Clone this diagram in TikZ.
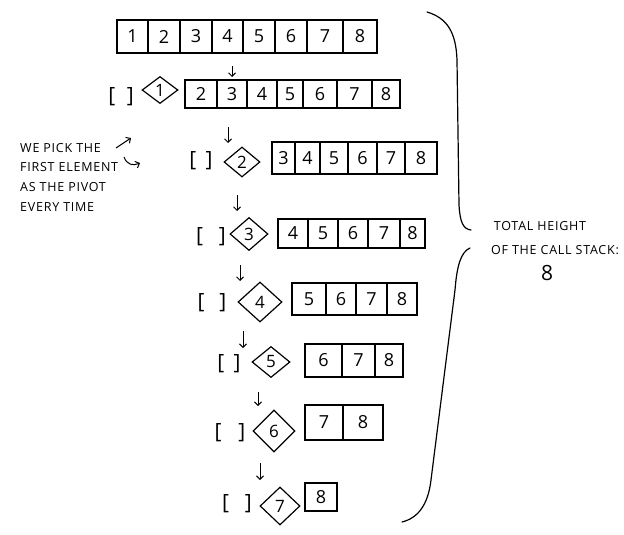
\documentclass[tikz,border=0pt]{standalone}
\usepackage{fontspec}
\setmainfont{Open Sans}
\newfontfamily\handcaps[LetterSpace=6]{Open Sans}
\usetikzlibrary{shapes.geometric,arrows.meta}
\newcommand\cellrow[4]{%
  \foreach \a/\b/\t [count=\i] in {#4} {%
    \node[cell, minimum width={\b-\a}, minimum height={#3-#2}] (r#1c\i) at ({(\a+\b)/2},{(#2+#3)/2}) {\t};}}
\tikzset{
  cell/.style={draw, line width=1.2pt, inner sep=0pt, font=\fontsize{18}{19}\selectfont},
  piv/.style={draw, diamond, line width=1.2pt, inner sep=0pt, aspect=1, font=\fontsize{17}{18}\selectfont},
  brk/.style={inner sep=0pt, font=\fontsize{21}{23}\selectfont},
  downarr/.style={line width=1pt, -{Straight Barb[length=3.5pt,width=7pt]}},
  note/.style={inner sep=0pt, anchor=west, font=\handcaps\fontsize{12.5}{14}\selectfont},
  brace/.style={line width=1.2pt, line cap=round}
}
\begin{document}
\begin{tikzpicture}[x=1pt,y=-1pt]
\useasboundingbox (0,0) rectangle (624,535);
% arrays
\cellrow{0}{20}{53}{117/148/1,148/180/2,180/212/3,212/243/4,243/275/5,275/307/6,307/343/7,343/377/8}
\cellrow{1}{80}{108}{185/217/2,217/247/3,247/277/4,277/303/5,303/337/6,337/372/7,372/400/8}
\cellrow{2}{142}{174}{272/295/3,295/320/4,320/348/5,348/377/6,377/405/7,405/437/8}
\cellrow{3}{219}{248}{278/308/4,308/338/5,338/368/6,368/400/7,400/425/8}
\cellrow{4}{283}{315}{292/326/5,326/356/6,356/387/7,387/417/8}
\cellrow{5}{344}{377}{305/342/6,342/375/7,375/403/8}
\cellrow{6}{405}{440}{305/343/7,343/383/8}
\cellrow{7}{483}{511}{305/337/8}
% pivots
\node[piv, minimum width=36pt, minimum height=27pt] (d1) at (160,90) {1};
\node[piv, minimum width=36pt, minimum height=30pt] (d2) at (242,162) {2};
\node[piv, minimum width=38pt, minimum height=33pt] (d3) at (249,234) {3};
\node[piv, minimum width=44pt, minimum height=40pt] (d4) at (260,302) {4};
\node[piv, minimum width=38pt, minimum height=31pt] (d5) at (271,362) {5};
\node[piv, minimum width=42pt, minimum height=42pt] (d6) at (274,431) {6};
\node[piv, minimum width=40pt, minimum height=38pt] (d7) at (280,506) {7};
% empty lists
\node[brk] (b1) at (121,97) {[\hspace{0.55em}]};
\node[brk] (b2) at (201,161) {[\hspace{0.45em}]};
\node[brk] (b3) at (211,237) {[\hspace{0.75em}]};
\node[brk] (b4) at (212,303) {[\hspace{0.7em}]};
\node[brk] (b5) at (229,364) {[\hspace{0.45em}]};
\node[brk] (b6) at (230,433) {[\hspace{0.8em}]};
\node[brk] (b7) at (237,504) {[\hspace{0.75em}]};
% recursion arrows
\coordinate (a1s) at (232,66); \coordinate (a1e) at (232,77);
\coordinate (a2s) at (228,127); \coordinate (a2e) at (228,143);
\coordinate (a3s) at (237,195); \coordinate (a3e) at (237,211);
\coordinate (a4s) at (240,265); \coordinate (a4e) at (240,281);
\coordinate (a5s) at (243,331); \coordinate (a5e) at (243,348);
\coordinate (a6s) at (258,392); \coordinate (a6e) at (258,406);
\coordinate (a7s) at (260,463); \coordinate (a7e) at (260,480);
\foreach \k in {1,...,7} {\draw[downarr] (a\k s) -- (a\k e);}
% brace
\draw[brace] (427,12) .. controls (447,18) and (456,32) .. (457,60)
  -- (459,205) .. controls (460,222) and (463,229) .. (471,230);
\draw[brace] (470,248) .. controls (461,252) and (457,265) .. (455,290)
  -- (431,480) .. controls (428,505) and (418,518) .. (402,522);
% left note
\node[note] (n1) at (20,148) {WE PICK THE};
\node[note] (n2) at (20,167) {FIRST ELEMENT};
\node[note] (n3) at (20,187) {AS THE PIVOT};
\node[note] (n4) at (20,207) {EVERY TIME};
\coordinate (p1s) at (116,148); \coordinate (p1e) at (131,138);
\draw[downarr] (p1s) -- (p1e);
\coordinate (p2s) at (124,157); \coordinate (p2e) at (140,163);
\draw[downarr] (p2s) .. controls (127,165) and (133,166) .. (p2e);
% right note
\node[note, anchor=center] (t1) at (540,226) {TOTAL HEIGHT};
\node[note, anchor=center] (t2) at (555,250) {OF THE CALL STACK:};
\node[inner sep=0pt, font=\fontsize{21}{22}\selectfont] (t3) at (547,273) {8};
\end{tikzpicture}
\end{document}
